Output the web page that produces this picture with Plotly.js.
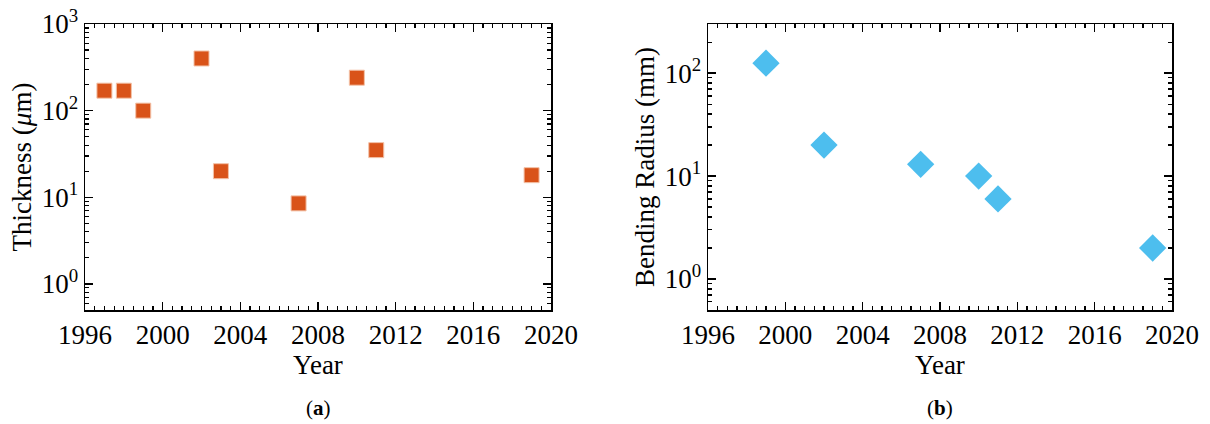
<!DOCTYPE html>
<html>
<head>
<meta charset="utf-8">
<script src="https://cdn.plot.ly/plotly-3.0.1.min.js"></script>
<style>html,body{margin:0;padding:0;background:#fff;}#chart{width:1210px;height:424px;}</style>
</head>
<body>
<div id="chart"></div>
<script>
// Panel (a): thickness by year
const yearsA = [1997, 1998, 1999, 2002, 2003, 2007, 2010, 2011, 2019];
const thickness = [170, 170, 100, 400, 20, 8.5, 240, 35, 18];
// Panel (b): bending radius by year
const yearsB = [1999, 2002, 2007, 2010, 2011, 2019];
const bendingRadius = [125, 20, 13, 10, 6, 2];

const xTicks = [1996, 2000, 2004, 2008, 2012, 2016, 2020];
const yTickVals = [1, 10, 100, 1000];
const yTickText = ['10<sup>0</sup>', '10<sup>1</sup>', '10<sup>2</sup>', '10<sup>3</sup>'];

const FONT = 'Liberation Serif';

function xAxis(domain, anchor) {
  return {
    domain: domain, anchor: anchor, range: [1996, 2020],
    tickmode: 'array', tickvals: xTicks, ticktext: xTicks.map(String),
    ticks: 'inside', ticklen: 8, tickwidth: 1.5, tickcolor: '#000',
    minor: {ticks: 'inside', dtick: 0.5, tick0: 1996, ticklen: 4, tickwidth: 1.2, tickcolor: '#000'},
    showline: true, linecolor: '#000', linewidth: 1.5, mirror: 'ticks',
    showgrid: false, zeroline: false,
    tickfont: {family: FONT, size: 27, color: '#000'},
    title: {text: 'Year', font: {family: FONT, size: 27, color: '#000'}, standoff: 4},
    automargin: false
  };
}
function yAxis(domain, anchor, range, title) {
  return {
    domain: domain, anchor: anchor, type: 'log', range: range,
    tickmode: 'array', tickvals: yTickVals, ticktext: yTickText,
    ticks: 'inside', ticklen: 8, tickwidth: 1.5, tickcolor: '#000',
    minor: {ticks: 'inside', dtick: 'D1', ticklen: 4, tickwidth: 1.2, tickcolor: '#000'},
    showline: true, linecolor: '#000', linewidth: 1.5, mirror: 'ticks',
    showgrid: false, zeroline: false,
    tickfont: {family: FONT, size: 27, color: '#000'},
    title: {text: title, font: {family: FONT, size: 27, color: '#000'}, standoff: 2},
    automargin: false
  };
}

const traces = [
  {
    x: yearsA, y: thickness, type: 'scatter', mode: 'markers',
    xaxis: 'x', yaxis: 'y',
    marker: {symbol: 'square', size: 15, color: '#D95319', line: {color: '#F3C2A8', width: 1}}
  },
  {
    x: yearsB, y: bendingRadius, type: 'scatter', mode: 'markers',
    xaxis: 'x2', yaxis: 'y2',
    marker: {symbol: 'diamond', size: 21, color: '#4DBEEE', line: {width: 0}}
  }
];

const yTop = 1 - 24 / 424, yBot = 1 - 310 / 424;
const layout = {
  width: 1210, height: 424,
  margin: {l: 0, r: 0, t: 0, b: 0},
  paper_bgcolor: '#fff', plot_bgcolor: '#fff',
  showlegend: false,
  font: {family: FONT, color: '#000'},
  xaxis: xAxis([85 / 1210, 551 / 1210], 'y'),
  yaxis: yAxis([yBot, yTop], 'x', [Math.log10(0.5), 3], 'Thickness (<i>μ</i>m)'),
  xaxis2: xAxis([708 / 1210, 1172 / 1210], 'y2'),
  yaxis2: yAxis([yBot, yTop], 'x2', [Math.log10(0.5), Math.log10(300)], 'Bending Radius (mm)'),
  annotations: [
    {text: '(<b>a</b>)', xref: 'paper', yref: 'paper', x: (85 + 551) / 2 / 1210, y: 1 - 408 / 424,
     xanchor: 'center', yanchor: 'middle', showarrow: false, font: {family: FONT, size: 21, color: '#000'}},
    {text: '(<b>b</b>)', xref: 'paper', yref: 'paper', x: (708 + 1172) / 2 / 1210, y: 1 - 408 / 424,
     xanchor: 'center', yanchor: 'middle', showarrow: false, font: {family: FONT, size: 21, color: '#000'}}
  ]
};

Plotly.newPlot('chart', traces, layout, {displayModeBar: false, staticPlot: true});
</script>
</body>
</html>
